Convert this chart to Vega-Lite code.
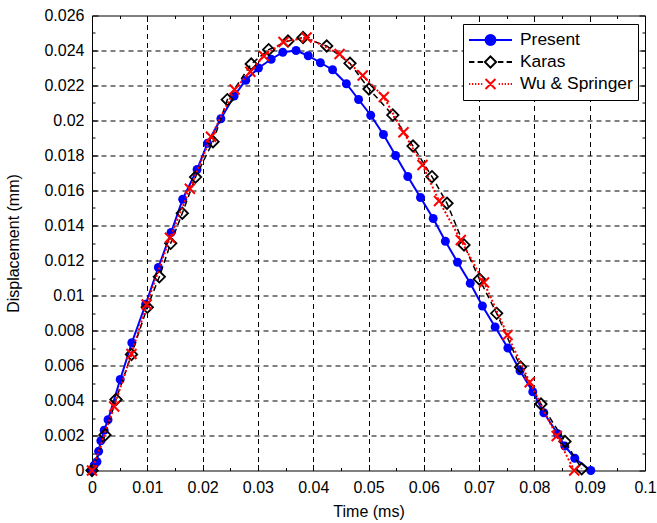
{
  "$schema": "https://vega.github.io/schema/vega-lite/v6.json",
  "width": 553,
  "height": 455,
  "autosize": {"type": "none"},
  "padding": {"left": 92, "top": 15.5, "right": 12, "bottom": 52.5},
  "background": "white",
  "config": {
    "view": {"stroke": "black", "strokeWidth": 1},
    "font": "Liberation Sans"
  },
  "data": {"values": [
    {"series": "Present", "t": 0, "d": 0},
    {"series": "Present", "t": 0.0004, "d": 0.0003},
    {"series": "Present", "t": 0.0009, "d": 0.0005},
    {"series": "Present", "t": 0.0012, "d": 0.0011},
    {"series": "Present", "t": 0.0016, "d": 0.0017},
    {"series": "Present", "t": 0.0022, "d": 0.0023},
    {"series": "Present", "t": 0.0029, "d": 0.0029},
    {"series": "Present", "t": 0.0051, "d": 0.0052},
    {"series": "Present", "t": 0.0072, "d": 0.0073},
    {"series": "Present", "t": 0.0097, "d": 0.0095},
    {"series": "Present", "t": 0.0120, "d": 0.0116},
    {"series": "Present", "t": 0.0143, "d": 0.0136},
    {"series": "Present", "t": 0.0164, "d": 0.0155},
    {"series": "Present", "t": 0.0190, "d": 0.0172},
    {"series": "Present", "t": 0.0209, "d": 0.0187},
    {"series": "Present", "t": 0.0233, "d": 0.0201},
    {"series": "Present", "t": 0.0257, "d": 0.0214},
    {"series": "Present", "t": 0.0278, "d": 0.0223},
    {"series": "Present", "t": 0.0301, "d": 0.0230},
    {"series": "Present", "t": 0.0324, "d": 0.0235},
    {"series": "Present", "t": 0.0345, "d": 0.0239},
    {"series": "Present", "t": 0.0369, "d": 0.0240},
    {"series": "Present", "t": 0.0391, "d": 0.0237},
    {"series": "Present", "t": 0.0413, "d": 0.0233},
    {"series": "Present", "t": 0.0435, "d": 0.0229},
    {"series": "Present", "t": 0.0460, "d": 0.0221},
    {"series": "Present", "t": 0.0482, "d": 0.0212},
    {"series": "Present", "t": 0.0504, "d": 0.0203},
    {"series": "Present", "t": 0.0527, "d": 0.0192},
    {"series": "Present", "t": 0.0549, "d": 0.0180},
    {"series": "Present", "t": 0.0571, "d": 0.0168},
    {"series": "Present", "t": 0.0594, "d": 0.0156},
    {"series": "Present", "t": 0.0617, "d": 0.0144},
    {"series": "Present", "t": 0.0639, "d": 0.0131},
    {"series": "Present", "t": 0.0661, "d": 0.0119},
    {"series": "Present", "t": 0.0684, "d": 0.0107},
    {"series": "Present", "t": 0.0706, "d": 0.0094},
    {"series": "Present", "t": 0.0729, "d": 0.0082},
    {"series": "Present", "t": 0.0752, "d": 0.0070},
    {"series": "Present", "t": 0.0774, "d": 0.0057},
    {"series": "Present", "t": 0.0797, "d": 0.0045},
    {"series": "Present", "t": 0.0817, "d": 0.0033},
    {"series": "Present", "t": 0.0842, "d": 0.0021},
    {"series": "Present", "t": 0.0855, "d": 0.0014},
    {"series": "Present", "t": 0.0873, "d": 0.0007},
    {"series": "Present", "t": 0.0902, "d": 0.0},
    {"series": "Karas", "t": 0, "d": 0},
    {"series": "Karas", "t": 0.00235, "d": 0.00203},
    {"series": "Karas", "t": 0.00434, "d": 0.00406},
    {"series": "Karas", "t": 0.00714, "d": 0.00663},
    {"series": "Karas", "t": 0.0100, "d": 0.00933},
    {"series": "Karas", "t": 0.01217, "d": 0.01107},
    {"series": "Karas", "t": 0.01423, "d": 0.01298},
    {"series": "Karas", "t": 0.01633, "d": 0.0147},
    {"series": "Karas", "t": 0.01872, "d": 0.01677},
    {"series": "Karas", "t": 0.02188, "d": 0.01879},
    {"series": "Karas", "t": 0.02447, "d": 0.02119},
    {"series": "Karas", "t": 0.0288, "d": 0.02323},
    {"series": "Karas", "t": 0.03195, "d": 0.02405},
    {"series": "Karas", "t": 0.03544, "d": 0.02454},
    {"series": "Karas", "t": 0.03816, "d": 0.02474},
    {"series": "Karas", "t": 0.04244, "d": 0.02426},
    {"series": "Karas", "t": 0.04665, "d": 0.02327},
    {"series": "Karas", "t": 0.05009, "d": 0.0218},
    {"series": "Karas", "t": 0.05439, "d": 0.02031},
    {"series": "Karas", "t": 0.05805, "d": 0.01854},
    {"series": "Karas", "t": 0.06148, "d": 0.01679},
    {"series": "Karas", "t": 0.0642, "d": 0.01527},
    {"series": "Karas", "t": 0.06727, "d": 0.01289},
    {"series": "Karas", "t": 0.07004, "d": 0.01094},
    {"series": "Karas", "t": 0.07318, "d": 0.00898},
    {"series": "Karas", "t": 0.07749, "d": 0.00591},
    {"series": "Karas", "t": 0.08119, "d": 0.0038},
    {"series": "Karas", "t": 0.08553, "d": 0.00166},
    {"series": "Karas", "t": 0.08855, "d": 0.0001},
    {"series": "Wu & Springer", "t": 0, "d": 0},
    {"series": "Wu & Springer", "t": 0.00401, "d": 0.00366},
    {"series": "Wu & Springer", "t": 0.00714, "d": 0.00666},
    {"series": "Wu & Springer", "t": 0.00989, "d": 0.00949},
    {"series": "Wu & Springer", "t": 0.0141, "d": 0.0133},
    {"series": "Wu & Springer", "t": 0.0177, "d": 0.0161},
    {"series": "Wu & Springer", "t": 0.02152, "d": 0.01907},
    {"series": "Wu & Springer", "t": 0.02577, "d": 0.02177},
    {"series": "Wu & Springer", "t": 0.02863, "d": 0.02279},
    {"series": "Wu & Springer", "t": 0.0311, "d": 0.02369},
    {"series": "Wu & Springer", "t": 0.03463, "d": 0.02449},
    {"series": "Wu & Springer", "t": 0.03879, "d": 0.02474},
    {"series": "Wu & Springer", "t": 0.04477, "d": 0.0238},
    {"series": "Wu & Springer", "t": 0.04895, "d": 0.02257},
    {"series": "Wu & Springer", "t": 0.05277, "d": 0.02134},
    {"series": "Wu & Springer", "t": 0.05633, "d": 0.01933},
    {"series": "Wu & Springer", "t": 0.05976, "d": 0.01746},
    {"series": "Wu & Springer", "t": 0.06275, "d": 0.0154},
    {"series": "Wu & Springer", "t": 0.06669, "d": 0.01317},
    {"series": "Wu & Springer", "t": 0.07089, "d": 0.01074},
    {"series": "Wu & Springer", "t": 0.07514, "d": 0.00774},
    {"series": "Wu & Springer", "t": 0.07915, "d": 0.00504},
    {"series": "Wu & Springer", "t": 0.08403, "d": 0.00197},
    {"series": "Wu & Springer", "t": 0.0872, "d": 0.0}
  ]},
  "resolve": {"axis": {"x": "independent", "y": "independent"}},
  "layer": [
    {
      "transform": [{"filter": "datum.series == 'Present'"}],
      "mark": {"type": "line", "color": "#0000ff", "strokeWidth": 2},
      "encoding": {
        "x": {"field": "t", "type": "quantitative",
          "scale": {"domain": [0, 0.1], "nice": false, "zero": false},
          "axis": {
            "orient": "bottom", "title": "Time (ms)",
            "values": [0,0.005,0.01,0.015,0.02,0.025,0.03,0.035,0.04,0.045,0.05,0.055,0.06,0.065,0.07,0.075,0.08,0.085,0.09,0.095,0.1],
            "format": "~g",
            "labelExpr": "abs(datum.value*100 - round(datum.value*100)) < 1e-6 ? datum.label : ''",
            "domain": false,
            "tickColor": "black", "tickWidth": 1,
            "tickSize": {"condition": {"test": "abs(datum.value*100 - round(datum.value*100)) < 1e-6", "value": -6}, "value": -3},
            "grid": true, "gridColor": "#000", "gridDash": [5, 4], "gridWidth": 1,
            "gridOpacity": {"condition": {"test": "abs(datum.value*100 - round(datum.value*100)) < 1e-6 && datum.value > 0.0001 && datum.value < 0.0999", "value": 1}, "value": 0},
            "labelFont": "Liberation Sans", "labelFontSize": 16, "labelColor": "black", "labelPadding": 15,
            "labelFlush": false, "labelOverlap": false,
            "titleFont": "Liberation Sans", "titleFontSize": 16, "titleFontWeight": "normal", "titleColor": "black", "titlePadding": 5
          }},
        "y": {"field": "d", "type": "quantitative",
          "scale": {"domain": [0, 0.026], "nice": false, "zero": false},
          "axis": {
            "orient": "left", "title": "Displacement (mm)",
            "values": [0,0.001,0.002,0.003,0.004,0.005,0.006,0.007,0.008,0.009,0.01,0.011,0.012,0.013,0.014,0.015,0.016,0.017,0.018,0.019,0.02,0.021,0.022,0.023,0.024,0.025,0.026],
            "format": "~g",
            "labelExpr": "abs(datum.value*500 - round(datum.value*500)) < 1e-6 ? datum.label : ''",
            "domain": false,
            "tickColor": "black", "tickWidth": 1,
            "tickSize": {"condition": {"test": "abs(datum.value*500 - round(datum.value*500)) < 1e-6", "value": -6}, "value": -3},
            "grid": true, "gridColor": "#000", "gridDash": [5, 4], "gridWidth": 1,
            "gridOpacity": {"condition": {"test": "abs(datum.value*500 - round(datum.value*500)) < 1e-6 && datum.value > 0.0001 && datum.value < 0.0259", "value": 1}, "value": 0},
            "labelFont": "Liberation Sans", "labelFontSize": 16, "labelColor": "black", "labelPadding": 14,
            "labelFlush": false, "labelOverlap": false,
            "titleFont": "Liberation Sans", "titleFontSize": 16, "titleFontWeight": "normal", "titleColor": "black", "titlePadding": 22
          }}
      }
    },
    {
      "transform": [{"filter": "datum.series == 'Present'"}],
      "mark": {"type": "point", "shape": "circle", "filled": true, "color": "#0000ff", "opacity": 1, "size": 80},
      "encoding": {
        "x": {"field": "t", "type": "quantitative", "axis": {
            "orient": "top", "title": null, "labels": false, "grid": false, "domain": false,
            "values": [0,0.005,0.01,0.015,0.02,0.025,0.03,0.035,0.04,0.045,0.05,0.055,0.06,0.065,0.07,0.075,0.08,0.085,0.09,0.095,0.1],
            "tickColor": "black", "tickWidth": 1,
            "tickSize": {"condition": {"test": "abs(datum.value*100 - round(datum.value*100)) < 1e-6", "value": -6}, "value": -3}
        }},
        "y": {"field": "d", "type": "quantitative", "axis": {
            "orient": "right", "title": null, "labels": false, "grid": false, "domain": false,
            "values": [0,0.001,0.002,0.003,0.004,0.005,0.006,0.007,0.008,0.009,0.01,0.011,0.012,0.013,0.014,0.015,0.016,0.017,0.018,0.019,0.02,0.021,0.022,0.023,0.024,0.025,0.026],
            "tickColor": "black", "tickWidth": 1,
            "tickSize": {"condition": {"test": "abs(datum.value*500 - round(datum.value*500)) < 1e-6", "value": -6}, "value": -3}
        }}
      }
    },
    {
      "transform": [{"filter": "datum.series == 'Karas'"}],
      "mark": {"type": "line", "color": "black", "strokeWidth": 1.5, "strokeDash": [6, 4]},
      "encoding": {
        "x": {"field": "t", "type": "quantitative", "axis": null},
        "y": {"field": "d", "type": "quantitative", "axis": null}
      }
    },
    {
      "transform": [{"filter": "datum.series == 'Karas'"}],
      "mark": {"type": "point", "shape": "diamond", "filled": false, "color": "black", "opacity": 1, "size": 130, "strokeWidth": 1.8},
      "encoding": {
        "x": {"field": "t", "type": "quantitative", "axis": null},
        "y": {"field": "d", "type": "quantitative", "axis": null}
      }
    },
    {
      "transform": [{"filter": "datum.series == 'Wu & Springer'"}],
      "mark": {"type": "line", "color": "#ff0000", "strokeWidth": 2, "strokeDash": [2, 2]},
      "encoding": {
        "x": {"field": "t", "type": "quantitative", "axis": null},
        "y": {"field": "d", "type": "quantitative", "axis": null}
      }
    },
    {
      "transform": [{"filter": "datum.series == 'Wu & Springer'"}],
      "mark": {"type": "point", "shape": "M-1,-1L1,1M-1,1L1,-1", "filled": false, "color": "#ff0000", "opacity": 1, "size": 100, "strokeWidth": 2},
      "encoding": {
        "x": {"field": "t", "type": "quantitative", "axis": null},
        "y": {"field": "d", "type": "quantitative", "axis": null}
      }
    },
    {
      "transform": [{"filter": "datum.t < 0"}],
      "mark": {"type": "point", "opacity": 1},
      "encoding": {
        "x": {"field": "t", "type": "quantitative", "axis": null},
        "y": {"field": "d", "type": "quantitative", "axis": null},
        "shape": {"field": "series", "type": "nominal",
          "scale": {"domain": ["Present", "Karas", "Wu & Springer"],
            "range": [
              "M-1,0H1M0.23,0A0.23,0.23,0,1,1,-0.23,0A0.23,0.23,0,1,1,0.23,0Z",
              "M-1,0H-0.75M-0.6,0H-0.35M0,-0.26L0.26,0L0,0.26L-0.26,0ZM0.35,0H0.6M0.75,0H1",
              "M-1,0H-0.94M-0.86,0H-0.8M-0.72,0H-0.66M-0.58,0H-0.52M-0.44,0H-0.38M-0.23,-0.23L0.23,0.23M-0.23,0.23L0.23,-0.23M0.38,0H0.44M0.52,0H0.58M0.66,0H0.72M0.8,0H0.86M0.94,0H1"
            ]},
          "legend": {"orient": "none", "legendX": 371, "legendY": 8.5, "title": null,
            "strokeColor": "black", "fillColor": "white", "padding": 5,
            "labelFont": "Liberation Sans", "labelFontSize": 17.4, "labelColor": "black",
            "symbolSize": 1849, "symbolStrokeWidth": 2, "clipHeight": 22, "labelOffset": 7, "rowPadding": 0}},
        "stroke": {"field": "series", "type": "nominal",
          "scale": {"domain": ["Present", "Karas", "Wu & Springer"], "range": ["#0000ff", "black", "#ff0000"]},
          "legend": {"orient": "none", "legendX": 371, "legendY": 8.5, "title": null,
            "strokeColor": "black", "fillColor": "white", "padding": 5,
            "labelFont": "Liberation Sans", "labelFontSize": 17.4, "labelColor": "black",
            "symbolSize": 1849, "symbolStrokeWidth": 2, "clipHeight": 22, "labelOffset": 7, "rowPadding": 0}},
        "fill": {"field": "series", "type": "nominal",
          "scale": {"domain": ["Present", "Karas", "Wu & Springer"], "range": ["#0000ff", "transparent", "transparent"]},
          "legend": {"orient": "none", "legendX": 371, "legendY": 8.5, "title": null,
            "strokeColor": "black", "fillColor": "white", "padding": 5,
            "labelFont": "Liberation Sans", "labelFontSize": 17.4, "labelColor": "black",
            "symbolSize": 1849, "symbolStrokeWidth": 2, "clipHeight": 22, "labelOffset": 7, "rowPadding": 0}}
      }
    }
  ]
}
